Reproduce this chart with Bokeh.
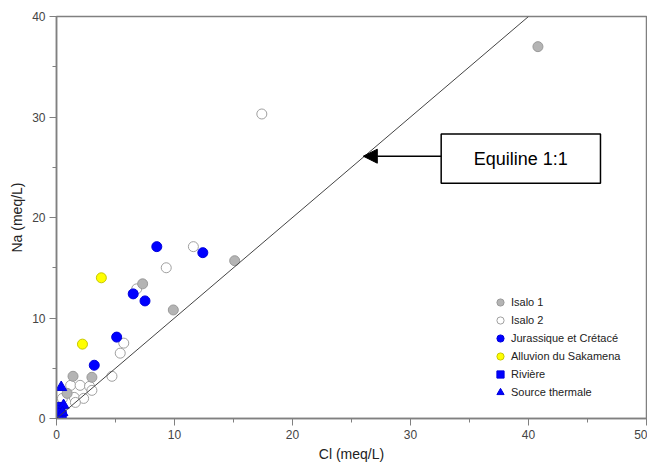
from bokeh.plotting import figure
from bokeh.models import (Arrow, NormalHead, BoxAnnotation, Label, SingleIntervalTicker,
                          Range1d, Slope)
from bokeh.embed import file_html
from bokeh.resources import INLINE

# ---- data (Cl meq/L, Na meq/L) ----
isalo1_cl = [40.8, 15.1, 9.9, 7.3, 1.4, 3.0, 0.9]
isalo1_na = [37.0, 15.7, 10.8, 13.4, 4.2, 4.1, 2.5]

isalo2_cl = [17.4, 11.6, 9.3, 6.8, 5.7, 5.4, 4.7, 1.2, 2.0, 2.8, 3.0, 1.5, 2.3, 1.6, 0.5]
isalo2_na = [30.3, 17.1, 15.0, 12.9, 7.5, 6.5, 4.2, 3.3, 3.3, 3.2, 2.8, 2.1, 2.0, 1.6, 2.0]

jura_cl = [8.5, 12.4, 6.5, 7.5, 5.1, 3.2]
jura_na = [17.1, 16.5, 12.4, 11.7, 8.1, 5.3]

alluv_cl = [3.8, 2.2]
alluv_na = [14.0, 7.4]

riviere_cl = [0.2, 0.05, 0.4, 0.1, 0.3]
riviere_na = [1.1, 0.6, 0.3, 0.1, 0.8]

source_cl = [0.4, 0.6, 0.5]
source_na = [3.1, 1.3, 0.6]

# annotation (data units)
box_left, box_right, box_bottom, box_top = 32.6, 46.1, 23.4, 28.3
arrow_x_start, arrow_x_end, arrow_y = 32.6, 26.0, 26.1
box_text = "Equiline 1:1"

FONT = "Liberation Sans"

p = figure(width=647, height=464, output_backend="svg", toolbar_location=None,
           x_range=Range1d(0, 50), y_range=Range1d(0, 40),
           min_border_left=56, min_border_top=16, min_border_right=1, min_border_bottom=44,
           background_fill_color="white", border_fill_color="white")
p.grid.visible = False
p.outline_line_color = "#808080"
p.outline_line_width = 1.5

p.xaxis.ticker = SingleIntervalTicker(interval=10, num_minor_ticks=2)
p.yaxis.ticker = SingleIntervalTicker(interval=10, num_minor_ticks=2)
for ax, lab in ((p.xaxis[0], "Cl (meq/L)"), (p.yaxis[0], "Na (meq/L)")):
    ax.axis_label = lab
    ax.axis_label_text_font = FONT
    ax.axis_label_text_font_style = "normal"
    ax.axis_label_text_font_size = "14px"
    ax.axis_label_text_color = "#222222"
    ax.axis_label_standoff = 4
    ax.major_label_text_font = FONT
    ax.major_label_text_font_size = "12px"
    ax.major_label_text_color = "#444444"
    ax.axis_line_color = "#808080"
    ax.axis_line_width = 1.5
    ax.major_tick_line_color = "#808080"
    ax.minor_tick_line_color = "#808080"
    ax.major_tick_in = 0
    ax.major_tick_out = 7
    ax.minor_tick_in = 0
    ax.minor_tick_out = 4
p.xaxis.major_label_standoff = 4
p.yaxis.major_label_standoff = 4

# equiline 1:1
p.add_layout(Slope(gradient=1, y_intercept=0, line_color="#444444", line_width=1))

# points
p.scatter(isalo2_cl, isalo2_na, marker="circle", size=10, fill_color="white",
          line_color="#a0a0a0", line_width=1, legend_label="Isalo 2")
p.scatter(isalo1_cl, isalo1_na, marker="circle", size=10, fill_color="#b4b4b4",
          line_color="#9a9a9a", line_width=1, legend_label="Isalo 1")
p.scatter(jura_cl, jura_na, marker="circle", size=10, fill_color="#0000ff",
          line_color="#0000dd", line_width=1, legend_label="Jurassique et Crétacé")
p.scatter(alluv_cl, alluv_na, marker="circle", size=10, fill_color="#ffff00",
          line_color="#c8c800", line_width=1, legend_label="Alluvion du Sakamena")
p.scatter(riviere_cl, riviere_na, marker="square", size=10, fill_color="#0000ff",
          line_color="#0000dd", line_width=1, legend_label="Rivière")
p.scatter(source_cl, source_na, marker="triangle", size=11, fill_color="#0000ff",
          line_color="#0000dd", line_width=1, legend_label="Source thermale")

# legend order as in reference
leg = p.legend[0]
items = list(leg.items)
items = [items[1], items[0]] + items[2:]
leg.items = items
leg.location = (434, 17)
leg.border_line_color = None
leg.background_fill_alpha = 0
leg.padding = 0
leg.margin = 0
leg.spacing = 0
leg.glyph_width = 20
leg.glyph_height = 18
leg.label_standoff = 1
leg.label_text_font = FONT
leg.label_text_font_size = "11px"
leg.label_text_color = "#222222"
leg.label_height = 14

# annotation box + arrow
p.add_layout(BoxAnnotation(left=box_left, right=box_right, bottom=box_bottom, top=box_top,
                           fill_color="white", fill_alpha=1, line_color="black",
                           line_alpha=1, line_width=1.5))
p.add_layout(Label(x=(box_left + box_right) / 2, y=(box_bottom + box_top) / 2, text=box_text,
                   text_align="center", text_baseline="middle", text_font=FONT,
                   text_font_size="18px", text_color="black"))
p.add_layout(Arrow(x_start=arrow_x_start, y_start=arrow_y, x_end=arrow_x_end, y_end=arrow_y,
                   line_color="black", line_width=1.5,
                   end=NormalHead(size=14, fill_color="black", line_color="black")))

open("out.html", "w").write(file_html(p, INLINE))
